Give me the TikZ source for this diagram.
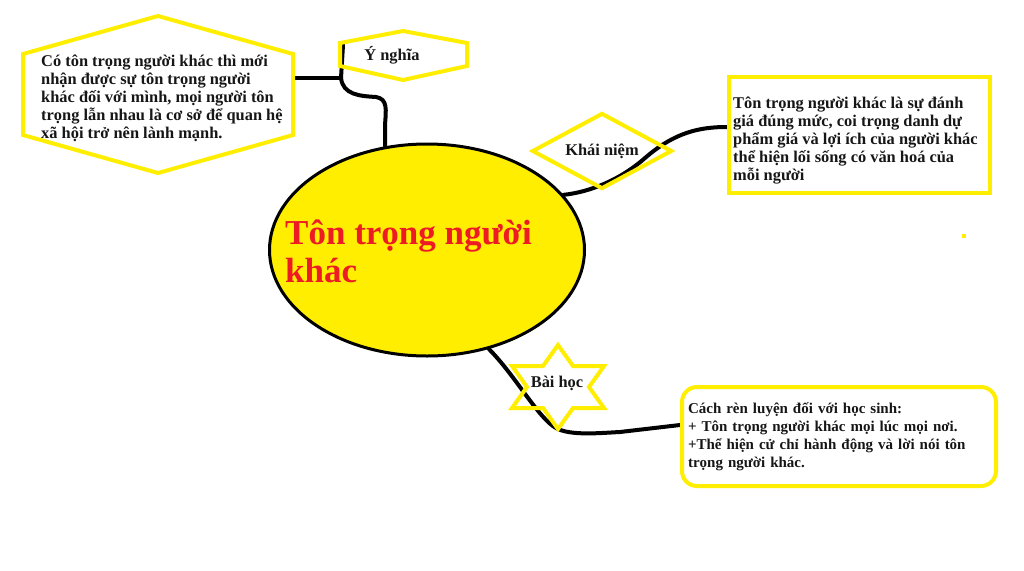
\documentclass[tikz,border=0pt]{standalone}
\usepackage{fontspec}
\setmainfont{Liberation Serif}
\usetikzlibrary{shapes.geometric,positioning}
\definecolor{paintyellow}{RGB}{255,238,0}
\definecolor{titlered}{RGB}{237,28,36}
\definecolor{inkdark}{RGB}{22,22,22}

\tikzset{
	yline/.style={draw=paintyellow, line width=4pt},
	link/.style={draw=black, line width=4pt, line cap=round},
	bodytext/.style={font=\fontsize{16.4}{18}\selectfont\bfseries, text=inkdark, align=left},
	smalltext/.style={font=\fontsize{15}{18}\selectfont\bfseries, text=inkdark, align=left}
}

\begin{document}
\begin{tikzpicture}[x=1pt, y=-1pt]
			\useasboundingbox (0,0) rectangle (1024,570);

			\node[ellipse, draw, line width=3pt, fill=paintyellow, minimum width=315pt, minimum height=212pt, inner sep=0pt] (topic) at (427,250) {};
			\node[anchor=west, inner sep=0pt, align=left, text=titlered, font=\fontsize{35}{38}\selectfont\bfseries] (title) at (285,251) {Tôn trọng người\\khác};

			\coordinate (tagfoot) at (343,45);
			\coordinate (fork) at (341,78);
			\coordinate (hexedge) at (293,78);

			\path[link]
				(tagfoot) edge (fork)
				(fork) edge (hexedge)
			;
			\draw[link] (fork) .. controls (343,95) and (360,96) .. (376,97) .. controls (388,99) and (386,110) .. (385,125) -- (topic.112);
			\draw[link] (topic.22) .. controls (590,192) and (620,180) .. (645,158) .. controls (675,132) and (700,127) .. (727,127);
			\draw[link] (topic.-58) .. controls (515,375) and (538,418) .. (556,428) .. controls (570,436) and (600,433) .. (620,432) -- (680,425);

			\draw[yline] (158,16) -- (293,54) -- (293,135) -- (158,173) -- (23,135) -- (23,54) -- cycle;
			\node[bodytext, anchor=west, inner sep=0pt] (meaning) at (41,98) {Có tôn trọng người khác thì mới\\nhận được sự tôn trọng người\\khác đối với mình, mọi người tôn\\trọng lẫn nhau là cơ sở để quan hệ\\xã hội trở nên lành mạnh.};

			\draw[yline] (340,43) -- (403,31) -- (467,43) -- (467,66) -- (403,80) -- (340,66) -- cycle;
			\node[bodytext, inner sep=0pt] (meaningtag) at (392,55) {Ý nghĩa};

			\node[diamond, yline, aspect=2, minimum width=140pt, minimum height=76pt, inner sep=0pt, bodytext] (concepttag) at (602,151) {Khái niệm};
			\node[yline, minimum width=261pt, minimum height=116pt] (conceptbox) at (859.5,135) {};
			\begin{scope}
				\clip (731,79) rectangle (988,183);
				\node[bodytext, anchor=west, inner sep=0pt] (concepttext) at (733,141) {Tôn trọng người khác là sự đánh\\giá đúng mức, coi trọng danh dự\\phẩm giá và lợi ích của người khác\\thể hiện lối sống có văn hoá của\\mỗi người};
			\end{scope}
			\fill[paintyellow] (962,234) rectangle (966,238);

			\draw[yline] (558,345) -- (573,366) -- (604,366) -- (589,387) -- (604,408) -- (573,408) -- (558,429) -- (543,408) -- (512,408) -- (527,387) -- (512,366) -- (543,366) -- cycle;
			\node[bodytext, inner sep=0pt] (lessontag) at (557,383) {Bài học};

			\node[yline, rounded corners=15pt, smalltext, text width=302pt, inner xsep=6pt, minimum width=314pt, minimum height=99pt] (lessonbox) at (839,436.5) {Cách rèn luyện đối với học sinh:\\+ Tôn trọng người khác mọi lúc mọi nơi.\\+Thể hiện cử chỉ hành động và lời nói tôn\\trọng người khác.};
		\end{tikzpicture}
\end{document}
